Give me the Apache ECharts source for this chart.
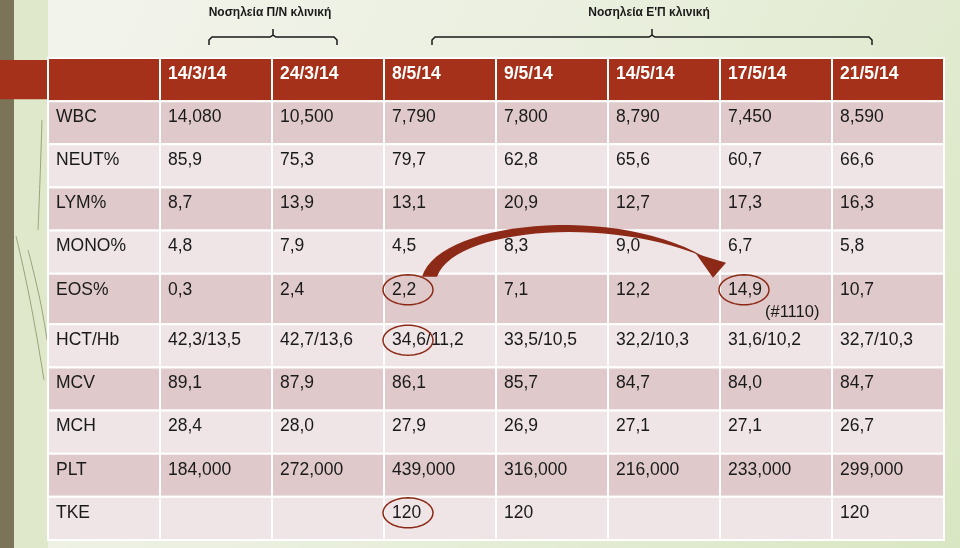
<!DOCTYPE html>
<html>
<head>
<meta charset="utf-8">
<script src="https://cdn.jsdelivr.net/npm/echarts@6/dist/echarts.min.js"></script>
<style>
  html, body { margin: 0; padding: 0; }
  #chart { width: 960px; height: 548px; }
</style>
</head>
<body>
<div id="chart"></div>
<script>
// table data
const dates = ['14/3/14', '24/3/14', '8/5/14', '9/5/14', '14/5/14', '17/5/14', '21/5/14'];
const rowLabels = ['WBC', 'NEUT%', 'LYM%', 'MONO%', 'EOS%', 'HCT/Hb', 'MCV', 'MCH', 'PLT', 'TKE'];
const wbc = ['14,080', '10,500', '7,790', '7,800', '8,790', '7,450', '8,590'];
const neut = ['85,9', '75,3', '79,7', '62,8', '65,6', '60,7', '66,6'];
const lym = ['8,7', '13,9', '13,1', '20,9', '12,7', '17,3', '16,3'];
const mono = ['4,8', '7,9', '4,5', '8,3', '9,0', '6,7', '5,8'];
const eos = ['0,3', '2,4', '2,2', '7,1', '12,2', '14,9', '10,7'];
const hctHb = ['42,3/13,5', '42,7/13,6', '34,6/11,2', '33,5/10,5', '32,2/10,3', '31,6/10,2', '32,7/10,3'];
const mcv = ['89,1', '87,9', '86,1', '85,7', '84,7', '84,0', '84,7'];
const mch = ['28,4', '28,0', '27,9', '26,9', '27,1', '27,1', '26,7'];
const plt = ['184,000', '272,000', '439,000', '316,000', '216,000', '233,000', '299,000'];
const tke = ['', '', '120', '120', '', '', '120'];
const rowValues = [wbc, neut, lym, mono, eos, hctHb, mcv, mch, plt, tke];

// extra note under EOS% on 17/5/14
const noteDate = '17/5/14';
const noteRow = 'EOS%';
const noteText = '(#1110)';

// circled cells [date, row]
const circled = [['8/5/14', 'EOS%'], ['8/5/14', 'HCT/Hb'], ['17/5/14', 'EOS%'], ['8/5/14', 'TKE']];

// hospital stays over the dates
const stays = [
  { name: 'Νοσηλεία Π/Ν κλινική', from: '14/3/14', to: '24/3/14' },
  { name: "Νοσηλεία Ε'Π κλινική", from: '8/5/14', to: '21/5/14' }
];

const FONT = '"Liberation Sans", Arial, sans-serif';
const RED = '#a5311b';
const DARK_ROW = '#dfc9ca';
const LIGHT_ROW = '#efe5e6';
const MARK = '#8c2a17';
const TALL_ROW = 1.17; // EOS% row holds a second line

const xCats = ['label'].concat(dates);

// row edges in axis units (header first)
const rowEdges = [0];
['head'].concat(rowLabels).forEach(name => {
  rowEdges.push(rowEdges[rowEdges.length - 1] + (name === noteRow ? TALL_ROW : 1));
});
const yMax = rowEdges[rowEdges.length - 1];

const cells = [];
const cellText = [];
xCats.forEach((c, i) => {
  cells.push([i, 0]);
  cellText.push(i === 0 ? '' : dates[i - 1]);
});
rowLabels.forEach((label, r) => {
  cells.push([0, r + 1]);
  cellText.push(label);
  rowValues[r].forEach((v, j) => {
    cells.push([j + 1, r + 1]);
    cellText.push(v);
  });
});

const circledKeys = circled.map(d => (dates.indexOf(d[0]) + 1) + ':' + (rowLabels.indexOf(d[1]) + 1));
const noteKey = (dates.indexOf(noteDate) + 1) + ':' + (rowLabels.indexOf(noteRow) + 1);

function ellipsePoints(cx, cy, rx, ry) {
  const pts = [];
  for (let k = 0; k < 48; k++) {
    const a = (k / 48) * Math.PI * 2;
    pts.push([cx + rx * Math.cos(a), cy + ry * Math.sin(a)]);
  }
  return pts;
}

function renderCell(params, api) {
  const c = api.value(0);
  const r = api.value(1);
  const top = api.coord([c, rowEdges[r]]);
  const bottom = api.coord([c, rowEdges[r + 1]]);
  const w = api.size([1, 0])[0];
  const x = top[0] - w / 2;
  const y = top[1];
  const h = bottom[1] - top[1];
  const fill = r === 0 ? RED : (r % 2 === 1 ? DARK_ROW : LIGHT_ROW);
  const children = [{
    type: 'rect',
    shape: { x: x, y: y, width: w, height: h },
    style: { fill: fill, stroke: '#fff', lineWidth: 2 }
  }, {
    type: 'text',
    style: {
      x: x + 8,
      y: y + 16,
      text: cellText[params.dataIndex],
      fill: r === 0 ? '#fff' : '#1a1a1a',
      font: (r === 0 ? 'bold ' : '') + '17.5px ' + FONT,
      verticalAlign: 'middle'
    }
  }];
  const key = c + ':' + r;
  if (key === noteKey) {
    children.push({
      type: 'text',
      style: {
        x: x + 45, y: y + 39, text: noteText, fill: '#1a1a1a',
        font: '16.5px ' + FONT, verticalAlign: 'middle'
      }
    });
  }
  if (circledKeys.indexOf(key) >= 0) {
    children.push({
      type: 'polygon',
      shape: { points: ellipsePoints(x + 24, y + 16, 25, 15) },
      style: { fill: null, stroke: MARK, lineWidth: 1.5 },
      z2: 10
    });
  }
  return { type: 'group', children: children };
}

const chart = echarts.init(document.getElementById('chart'), null, { renderer: 'canvas' });

chart.setOption({
  animation: false,
  grid: { left: 48, right: 16, top: 58, bottom: 8 },
  xAxis: { type: 'category', data: xCats, show: false },
  yAxis: { type: 'value', min: 0, max: yMax, inverse: true, show: false },
  series: [{
    type: 'custom',
    renderItem: renderCell,
    encode: { x: 0, y: 1 },
    data: cells,
    clip: false,
    z: 5
  }]
});

// decorations placed from the table's own pixel positions
function px(col, yv) {
  return chart.convertToPixel({ gridIndex: 0 }, [col, yv]);
}
const cw = px(1, 0)[0] - px(0, 0)[0];
const headTop = px(0, rowEdges[0])[1];
const headBottom = px(0, rowEdges[1])[1];

function bez(p0, p1, p2, p3, n) {
  const out = [];
  for (let i = 0; i <= n; i++) {
    const t = i / n, u = 1 - t;
    out.push([
      u * u * u * p0[0] + 3 * u * u * t * p1[0] + 3 * u * t * t * p2[0] + t * t * t * p3[0],
      u * u * u * p0[1] + 3 * u * u * t * p1[1] + 3 * u * t * t * p2[1] + t * t * t * p3[1]
    ]);
  }
  return out;
}

const graphics = [];
// background
graphics.push({
  type: 'rect', z: -10, silent: true,
  shape: { x: 0, y: 0, width: 960, height: 548 },
  style: {
    fill: new echarts.graphic.LinearGradient(0, 0, 1, 1, [
      { offset: 0, color: '#f4f4ee' },
      { offset: 0.5, color: '#e9efdd' },
      { offset: 1, color: '#d9e6c3' }
    ])
  }
});
graphics.push({ type: 'rect', z: -9, shape: { x: 14, y: 0, width: 34, height: 548 }, style: { fill: '#dfe8cb' } });
graphics.push({ type: 'rect', z: -8, shape: { x: 0, y: 0, width: 14, height: 548 }, style: { fill: '#7b7459' } });
graphics.push({ type: 'rect', z: -8, shape: { x: 0, y: headTop + 2, width: 48, height: headBottom - headTop - 4 }, style: { fill: RED } });
[[[16, 236], [30, 300], [44, 380]], [[28, 250], [40, 300], [47, 340]], [[42, 120], [40, 180], [38, 230]]].forEach(p => {
  graphics.push({ type: 'polyline', z: -7, shape: { points: p, smooth: 0.5 }, style: { stroke: '#9aa27a', lineWidth: 1, fill: null } });
});

// stay brackets and titles
stays.forEach((s, i) => {
  const a = px(dates.indexOf(s.from) + 1, 0)[0] + (i === 0 ? -7 : -8);
  const b = px(dates.indexOf(s.to) + 1, 0)[0] + (i === 0 ? 9 : -16);
  const m = (a + b) / 2;
  const yl = 37;
  graphics.push({
    type: 'polyline', z: 20,
    shape: { points: [[a, 45], [a, yl + 3], [a + 3, yl], [m - 3, yl], [m, yl - 2], [m, 29], [m, yl - 2], [m + 3, yl], [b - 3, yl], [b, yl + 3], [b, 45]] },
    style: { stroke: '#1a1a1a', lineWidth: 1.5, fill: null }
  });
  graphics.push({
    type: 'text', z: 20,
    style: { x: m - 3, y: 13, text: s.name, font: 'bold 12px ' + FONT, fill: '#1a1a1a', align: 'center', verticalAlign: 'middle' }
  });
});

// arrow from the circled EOS% on 8/5/14 to the one on 17/5/14
const eosRow = rowLabels.indexOf('EOS%') + 1;
const ax = px(dates.indexOf('8/5/14') + 1, 0)[0] - cw / 2;
const ay = px(0, rowEdges[eosRow])[1];
const P = (dx, dy) => [ax + dx, ay + dy];
const outer = bez(P(38, 3), P(54, -52), P(228, -70), P(320, -17), 30);
const inner = bez(P(328, -13), P(236, -58), P(71, -48), P(53, 3), 30);
graphics.push({ type: 'polygon', z: 30, shape: { points: outer.concat(inner) }, style: { fill: MARK } });
graphics.push({ type: 'polygon', z: 30, shape: { points: [P(312, -20), P(342, -11), P(329, 4)] }, style: { fill: MARK } });

chart.setOption({ graphic: graphics });
</script>
</body>
</html>
